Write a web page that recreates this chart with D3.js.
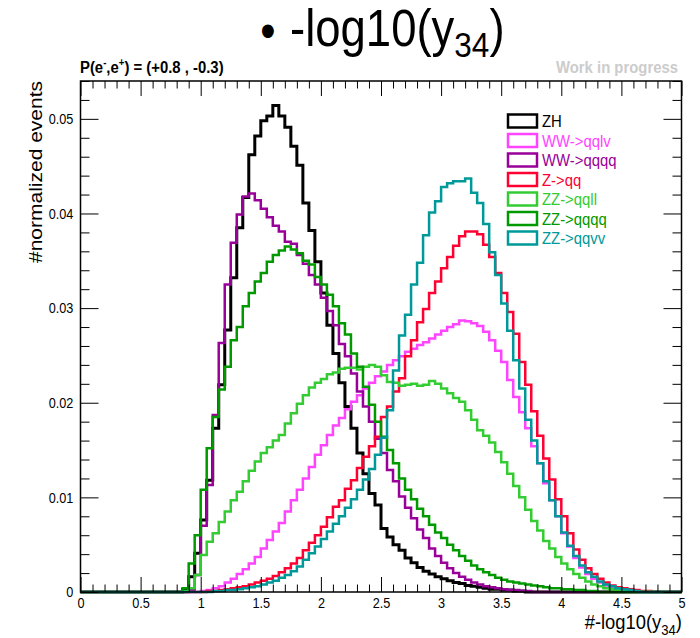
<!DOCTYPE html>
<html>
<head>
<meta charset="utf-8">
<script src="https://cdn.jsdelivr.net/npm/d3@7"></script>
<style>
  body { margin: 0; background: #fff; }
  svg { display: block; }
  text { font-family: "Liberation Sans", Arial, Helvetica, sans-serif; }
</style>
</head>
<body>
<div id="chart"></div>
<script>
// histograms: 100 bins of 0.05 on [0,5], each listed from its first filled bin
var binWidth = 0.05;
var seriesNames  = ["ZH", "WW->qqlv", "WW->qqqq", "Z->qq", "ZZ->qqll", "ZZ->qqqq", "ZZ->qqvv"];
var seriesColors = ["#000000", "#ff44ff", "#990099", "#ff0033", "#33cc33", "#009900", "#009999"];
var seriesStart  = [0.85, 1.0, 0.9, 1.05, 0.85, 0.85, 1.1];

var zhVals = [0.0003, 0.0016, 0.0041, 0.0076, 0.0118, 0.0173, 0.0219, 0.0277, 0.0332, 0.0385,
  0.0417, 0.0462, 0.0482, 0.0498, 0.0503, 0.0514, 0.0503, 0.0491, 0.0471, 0.0451,
  0.0411, 0.0382, 0.0349, 0.0316, 0.0282, 0.0252, 0.0221, 0.0196, 0.0173, 0.0147,
  0.0125, 0.0104, 0.0092, 0.0067, 0.0058, 0.0050, 0.0044, 0.0036, 0.0031, 0.0026,
  0.0022, 0.0019, 0.0016, 0.0014, 0.0012, 0.0010, 0.0009, 0.0007, 0.0006, 0.0005,
  0.0004, 0.0003, 0.0003, 0.0002, 0.0002, 0.0001, 0.0001];
var wwlvVals = [0.0001, 0.0002, 0.0004, 0.0006, 0.0010, 0.0014, 0.0019, 0.0024, 0.0030, 0.0037,
  0.0046, 0.0055, 0.0064, 0.0073, 0.0085, 0.0097, 0.0108, 0.0120, 0.0132, 0.0145,
  0.0155, 0.0166, 0.0176, 0.0184, 0.0193, 0.0201, 0.0208, 0.0215, 0.0221, 0.0228,
  0.0233, 0.0240, 0.0245, 0.0249, 0.0254, 0.0257, 0.0261, 0.0264, 0.0268, 0.0272,
  0.0276, 0.0280, 0.0283, 0.0287, 0.0286, 0.0284, 0.0281, 0.0275, 0.0266, 0.0255,
  0.0243, 0.0224, 0.0206, 0.0190, 0.0173, 0.0154, 0.0136, 0.0115, 0.0097, 0.0080,
  0.0062, 0.0048, 0.0036, 0.0026, 0.0019, 0.0014, 0.0010, 0.0007, 0.0005, 0.0003,
  0.0002, 0.0001, 0.0001];
var wwqqVals = [0.0002, 0.0018, 0.0070, 0.0113, 0.0187, 0.0263, 0.0325, 0.0369, 0.0399, 0.0418,
  0.0421, 0.0414, 0.0405, 0.0396, 0.0387, 0.0381, 0.0370, 0.0368, 0.0356, 0.0347,
  0.0335, 0.0325, 0.0311, 0.0297, 0.0282, 0.0262, 0.0249, 0.0231, 0.0212, 0.0196,
  0.0180, 0.0162, 0.0147, 0.0129, 0.0117, 0.0101, 0.0089, 0.0078, 0.0066, 0.0057,
  0.0046, 0.0038, 0.0031, 0.0025, 0.0020, 0.0016, 0.0013, 0.0010, 0.0008, 0.0006,
  0.0005, 0.0004, 0.0003, 0.0002, 0.0002, 0.0001, 0.0001];
var zqqVals = [0.0001, 0.0001, 0.0002, 0.0003, 0.0004, 0.0005, 0.0006, 0.0008, 0.0010, 0.0012,
  0.0014, 0.0017, 0.0021, 0.0025, 0.0030, 0.0036, 0.0044, 0.0052, 0.0060, 0.0069,
  0.0079, 0.0090, 0.0097, 0.0109, 0.0118, 0.0131, 0.0143, 0.0154, 0.0164, 0.0185,
  0.0196, 0.0212, 0.0226, 0.0249, 0.0266, 0.0285, 0.0299, 0.0316, 0.0328, 0.0342,
  0.0354, 0.0366, 0.0376, 0.0381, 0.0381, 0.0378, 0.0367, 0.0354, 0.0337, 0.0316,
  0.0296, 0.0273, 0.0243, 0.0219, 0.0191, 0.0165, 0.0141, 0.0119, 0.0098, 0.0080,
  0.0062, 0.0045, 0.0034, 0.0025, 0.0019, 0.0014, 0.0010, 0.0007, 0.0005, 0.0004,
  0.0003, 0.0002, 0.0001, 0.0001];
var zzllVals = [0.0001, 0.0004, 0.0018, 0.0039, 0.0053, 0.0062, 0.0074, 0.0085, 0.0097, 0.0106,
  0.0117, 0.0128, 0.0138, 0.0147, 0.0153, 0.0160, 0.0166, 0.0178, 0.0189, 0.0199,
  0.0208, 0.0216, 0.0221, 0.0225, 0.0230, 0.0232, 0.0236, 0.0237, 0.0237, 0.0235,
  0.0238, 0.0240, 0.0238, 0.0229, 0.0222, 0.0221, 0.0218, 0.0219, 0.0220, 0.0218,
  0.0219, 0.0223, 0.0220, 0.0215, 0.0210, 0.0205, 0.0201, 0.0192, 0.0182, 0.0171,
  0.0165, 0.0158, 0.0148, 0.0137, 0.0125, 0.0112, 0.0100, 0.0087, 0.0075, 0.0065,
  0.0054, 0.0046, 0.0037, 0.0030, 0.0024, 0.0019, 0.0015, 0.0011, 0.0008, 0.0006,
  0.0004, 0.0003, 0.0002, 0.0001];
var zzqqVals = [0.0004, 0.0030, 0.0060, 0.0108, 0.0152, 0.0185, 0.0214, 0.0238, 0.0266, 0.0280,
  0.0302, 0.0316, 0.0328, 0.0337, 0.0349, 0.0356, 0.0361, 0.0365, 0.0362, 0.0358,
  0.0350, 0.0346, 0.0333, 0.0325, 0.0314, 0.0302, 0.0284, 0.0272, 0.0252, 0.0238,
  0.0217, 0.0198, 0.0180, 0.0164, 0.0150, 0.0136, 0.0120, 0.0108, 0.0098, 0.0088,
  0.0080, 0.0071, 0.0063, 0.0057, 0.0050, 0.0044, 0.0038, 0.0033, 0.0028, 0.0024,
  0.0021, 0.0018, 0.0015, 0.0013, 0.0011, 0.0010, 0.0009, 0.0008, 0.0007, 0.0006,
  0.0005, 0.0004, 0.0004, 0.0003, 0.0003, 0.0002, 0.0002, 0.0001, 0.0001];
var zzvvVals = [0.0001, 0.0001, 0.0002, 0.0002, 0.0003, 0.0004, 0.0005, 0.0006, 0.0008, 0.0010,
  0.0012, 0.0015, 0.0018, 0.0022, 0.0027, 0.0034, 0.0041, 0.0048, 0.0056, 0.0064,
  0.0072, 0.0080, 0.0089, 0.0098, 0.0108, 0.0119, 0.0130, 0.0145, 0.0163, 0.0192,
  0.0234, 0.0271, 0.0293, 0.0325, 0.0348, 0.0377, 0.0401, 0.0413, 0.0428, 0.0432,
  0.0434, 0.0434, 0.0437, 0.0422, 0.0411, 0.0389, 0.0359, 0.0335, 0.0305, 0.0276,
  0.0245, 0.0215, 0.0182, 0.0160, 0.0136, 0.0117, 0.0097, 0.0080, 0.0063, 0.0049,
  0.0038, 0.0028, 0.0021, 0.0016, 0.0011, 0.0008, 0.0006, 0.0004, 0.0003, 0.0002, 0.0001];

var seriesVals = [zhVals, wwlvVals, wwqqVals, zqqVals, zzllVals, zzqqVals, zzvvVals];
var xTicks = [0, 0.5, 1, 1.5, 2, 2.5, 3, 3.5, 4, 4.5, 5];
var yTicks = [0, 0.01, 0.02, 0.03, 0.04, 0.05];

var W = 700, H = 638;
var sq = 0.875; // the source canvas is squeezed horizontally, so text is too
var xMin = 0, xMax = 5, yMax = 0.054;
var L = 80.5, R = 681.5, T = 81, B = 592;

var svg = d3.select("#chart").append("svg").attr("width", W).attr("height", H);

var x = d3.scaleLinear().domain([xMin, xMax]).range([L, R]);
var y = d3.scaleLinear().domain([0, yMax]).range([B, T]);

function fullBins(start, vals) {
  var n = Math.round((xMax - xMin) / binWidth);
  var out = new Array(n).fill(0);
  var i0 = Math.round((start - xMin) / binWidth);
  vals.forEach(function(v, k) { out[i0 + k] = v; });
  return out;
}

// squeezed text helper
function txt(px, py, s, size, opts) {
  opts = opts || {};
  var g = svg.append("g").attr("transform",
    "translate(" + px + "," + py + ") scale(" + sq + ",1)" + (opts.rotate ? " rotate(" + opts.rotate + ")" : ""));
  var t = g.append("text")
    .attr("font-size", size)
    .attr("text-anchor", opts.anchor || "start")
    .attr("fill", opts.fill || "#000")
    .attr("font-weight", opts.bold ? "bold" : "normal");
  if (opts.dy) t.attr("dy", opts.dy);
  t.text(s);
  return t;
}

/* ------- HISTOGRAMS ------- */
var stepLine = d3.line()
  .x(function(d) { return x(d[0]); })
  .y(function(d) { return y(d[1]); })
  .curve(d3.curveStepAfter);

seriesVals.forEach(function(vals, i) {
  var bins = fullBins(seriesStart[i], vals);
  var pts = bins.map(function(v, k) { return [xMin + k * binWidth, v]; });
  pts.push([xMax, bins[bins.length - 1]]);
  pts.push([xMax, 0]);
  svg.append("path")
    .attr("d", stepLine(pts))
    .attr("fill", "none")
    .attr("stroke", seriesColors[i])
    .attr("stroke-width", i == 0 ? 3 : 2.5)
    .attr("stroke-linejoin", "miter");
});

/* ------- FRAME + AXES ------- */
svg.append("rect")
  .attr("x", L).attr("y", T).attr("width", R - L).attr("height", B - T)
  .attr("fill", "none").attr("stroke", "#000").attr("stroke-width", 1.5);

var xMinor = d3.range(0, 51).map(function(k) { return k / 10; })
  .filter(function(v) { return Math.round(v * 10) % 5 != 0; });
var yMinor = d3.range(0, 28).map(function(k) { return k * 0.002; })
  .filter(function(v) { return Math.round(v * 1000) % 10 != 0; });

function tickAxis(axisFn, scale, vals, size, tr, labels, fmt) {
  var a = axisFn(scale).tickValues(vals).tickSize(-size).tickPadding(6);
  if (labels) a.tickFormat(fmt); else a.tickFormat("");
  var g = svg.append("g").attr("transform", tr).call(a);
  g.select(".domain").remove();
  g.selectAll("line").attr("stroke", "#000").attr("stroke-width", 1);
  return g;
}

var fx = function(d) { return String(d); };
var fy = function(d) { return d === 0 ? "0" : d3.format(".2f")(d); };

var gx = tickAxis(d3.axisBottom, x, xTicks, 15, "translate(0," + B + ")", true, fx);
tickAxis(d3.axisBottom, x, xMinor, 7.5, "translate(0," + B + ")", false);
tickAxis(d3.axisTop, x, xTicks, 15, "translate(0," + T + ")", false);
tickAxis(d3.axisTop, x, xMinor, 7.5, "translate(0," + T + ")", false);
var gy = tickAxis(d3.axisLeft, y, yTicks, 18, "translate(" + L + ",0)", true, fy);
tickAxis(d3.axisLeft, y, yMinor, 9, "translate(" + L + ",0)", false);
tickAxis(d3.axisRight, y, yTicks, 18, "translate(" + R + ",0)", false);
tickAxis(d3.axisRight, y, yMinor, 9, "translate(" + R + ",0)", false);

gx.selectAll("text").attr("dy", "0.66em");
gy.selectAll("text").attr("dx", "-0.15em");
[gx, gy].forEach(function(g) {
  g.selectAll("text")
    .attr("font-size", 14.5)
    .attr("fill", "#000")
    .attr("font-family", "'Liberation Sans', Arial, sans-serif")
    .attr("transform", "scale(" + sq + ",1)");
});

/* ------- TITLES ------- */
txt(268, 48, "\u2022", 50, {anchor: "middle"});
var title = txt(290, 46, "-log10(y", 52);
title.append("tspan").attr("font-size", 36).attr("dy", 11).text("34");
title.append("tspan").attr("font-size", 52).attr("dy", -11).text(")");

txt(80, 73, "P(e", 17, {bold: true})
  .call(function(t) {
    t.append("tspan").attr("font-size", 11).attr("dy", -7).text("-");
    t.append("tspan").attr("dy", 7).text(",e");
    t.append("tspan").attr("font-size", 11).attr("dy", -7).text("+");
    t.append("tspan").attr("dy", 7).text(") = (+0.8 , -0.3)");
  });
txt(678, 73, "Work in progress", 17, {anchor: "end", bold: true, fill: "#cccccc"});

var xt = txt(682, 629, "", 21, {anchor: "end"});
xt.append("tspan").text("#-log10(y");
xt.append("tspan").attr("font-size", 15).attr("dy", 6).text("34");
xt.append("tspan").attr("dy", -6).text(")");

txt(42, 81, "#normalized events", 21, {anchor: "end", rotate: -90});

/* ------- LEGEND ------- */
seriesNames.forEach(function(name, i) {
  var cy = 121 + 19.5 * i;
  svg.append("rect")
    .attr("x", 508).attr("y", cy - 6.5).attr("width", 29).attr("height", 13)
    .attr("fill", "none").attr("stroke", seriesColors[i]).attr("stroke-width", 2.5);
  txt(542, cy, name, 17, {fill: seriesColors[i], dy: "0.36em"});
});
</script>
</body>
</html>
